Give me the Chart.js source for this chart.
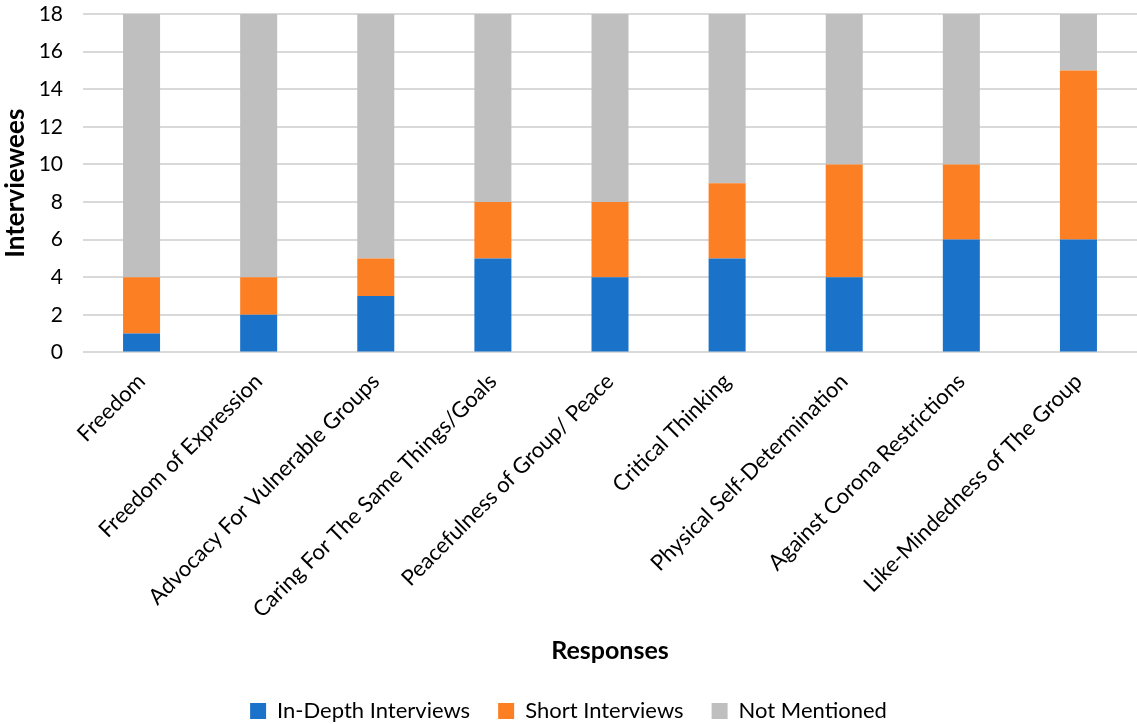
<!DOCTYPE html>
<html>
<head>
<meta charset="utf-8">
<script src="https://cdn.jsdelivr.net/npm/chart.js@4"></script>
<style>
  html, body { margin: 0; padding: 0; background: #fff; }
  #wrap { width: 1137px; height: 724px; }
</style>
</head>
<body>
<div id="wrap"><canvas id="c"></canvas></div>
<script>
const categories = [
  "Freedom",
  "Freedom of Expression",
  "Advocacy For Vulnerable Groups",
  "Caring For The Same Things/Goals",
  "Peacefulness of Group/ Peace",
  "Critical Thinking",
  "Physical Self-Determination",
  "Against Corona Restrictions",
  "Like-Mindedness of The Group"
];
const inDepth = [1, 2, 3, 5, 4, 5, 4, 6, 6];
const shortInterviews = [3, 2, 2, 3, 4, 4, 6, 4, 9];
const notMentioned = [14, 14, 13, 10, 10, 9, 8, 8, 3];
const yTicks = [0, 2, 4, 6, 8, 10, 12, 14, 16, 18];

const FONT = "Lato, 'Open Sans', sans-serif";

new Chart(document.getElementById("c"), {
  type: "bar",
  data: {
    labels: categories,
    datasets: [
      { label: "In-Depth Interviews", data: inDepth, backgroundColor: "#1a73c9" },
      { label: "Short Interviews", data: shortInterviews, backgroundColor: "#fd7f23" },
      { label: "Not Mentioned", data: notMentioned, backgroundColor: "#bfbfbf" }
    ]
  },
  options: {
    responsive: true,
    maintainAspectRatio: false,
    animation: false,
    layout: { padding: { top: 14, right: 0, left: 0, bottom: -8 } },
    datasets: { bar: { barPercentage: 0.316, categoryPercentage: 1.0 } },
    plugins: {
      // the x-axis caption sits between the category labels and the legend
      title: {
        display: true,
        position: "bottom",
        fullSize: false,
        weight: 500,
        text: "Responses",
        color: "#000",
        font: { family: FONT, size: 25, weight: "bold" },
        padding: { top: 5, bottom: 6 }
      },
      legend: {
        position: "bottom",
        weight: 1000,
        labels: {
          font: { family: FONT, size: 22 },
          color: "#000",
          boxWidth: 16,
          boxHeight: 16,
          padding: 28
        }
      },
      tooltip: { enabled: false }
    },
    scales: {
      x: {
        stacked: true,
        grid: { display: false },
        border: { display: false },
        afterFit: (scale) => { scale.paddingLeft = 0; },
        ticks: {
          maxRotation: 45,
          minRotation: 45,
          color: "#000",
          font: { family: FONT, size: 22 },
          padding: 8
        }
      },
      y: {
        stacked: true,
        min: 0,
        max: 18,
        afterBuildTicks: (axis) => { axis.ticks = yTicks.map(v => ({ value: v })); },
        afterFit: (scale) => {
          scale.width = 83;
          scale.paddingTop = 0;
          scale.paddingBottom = 0;
        },
        grid: { color: "#d9d9d9", lineWidth: 2, drawTicks: false },
        border: { display: false },
        ticks: {
          color: "#000",
          font: { family: FONT, size: 21 },
          padding: 20
        },
        title: {
          display: true,
          text: "Interviewees",
          color: "#000",
          font: { family: FONT, size: 26, weight: "bold" },
          padding: { top: 0, bottom: 0 }
        }
      }
    }
  }
});
</script>
</body>
</html>
